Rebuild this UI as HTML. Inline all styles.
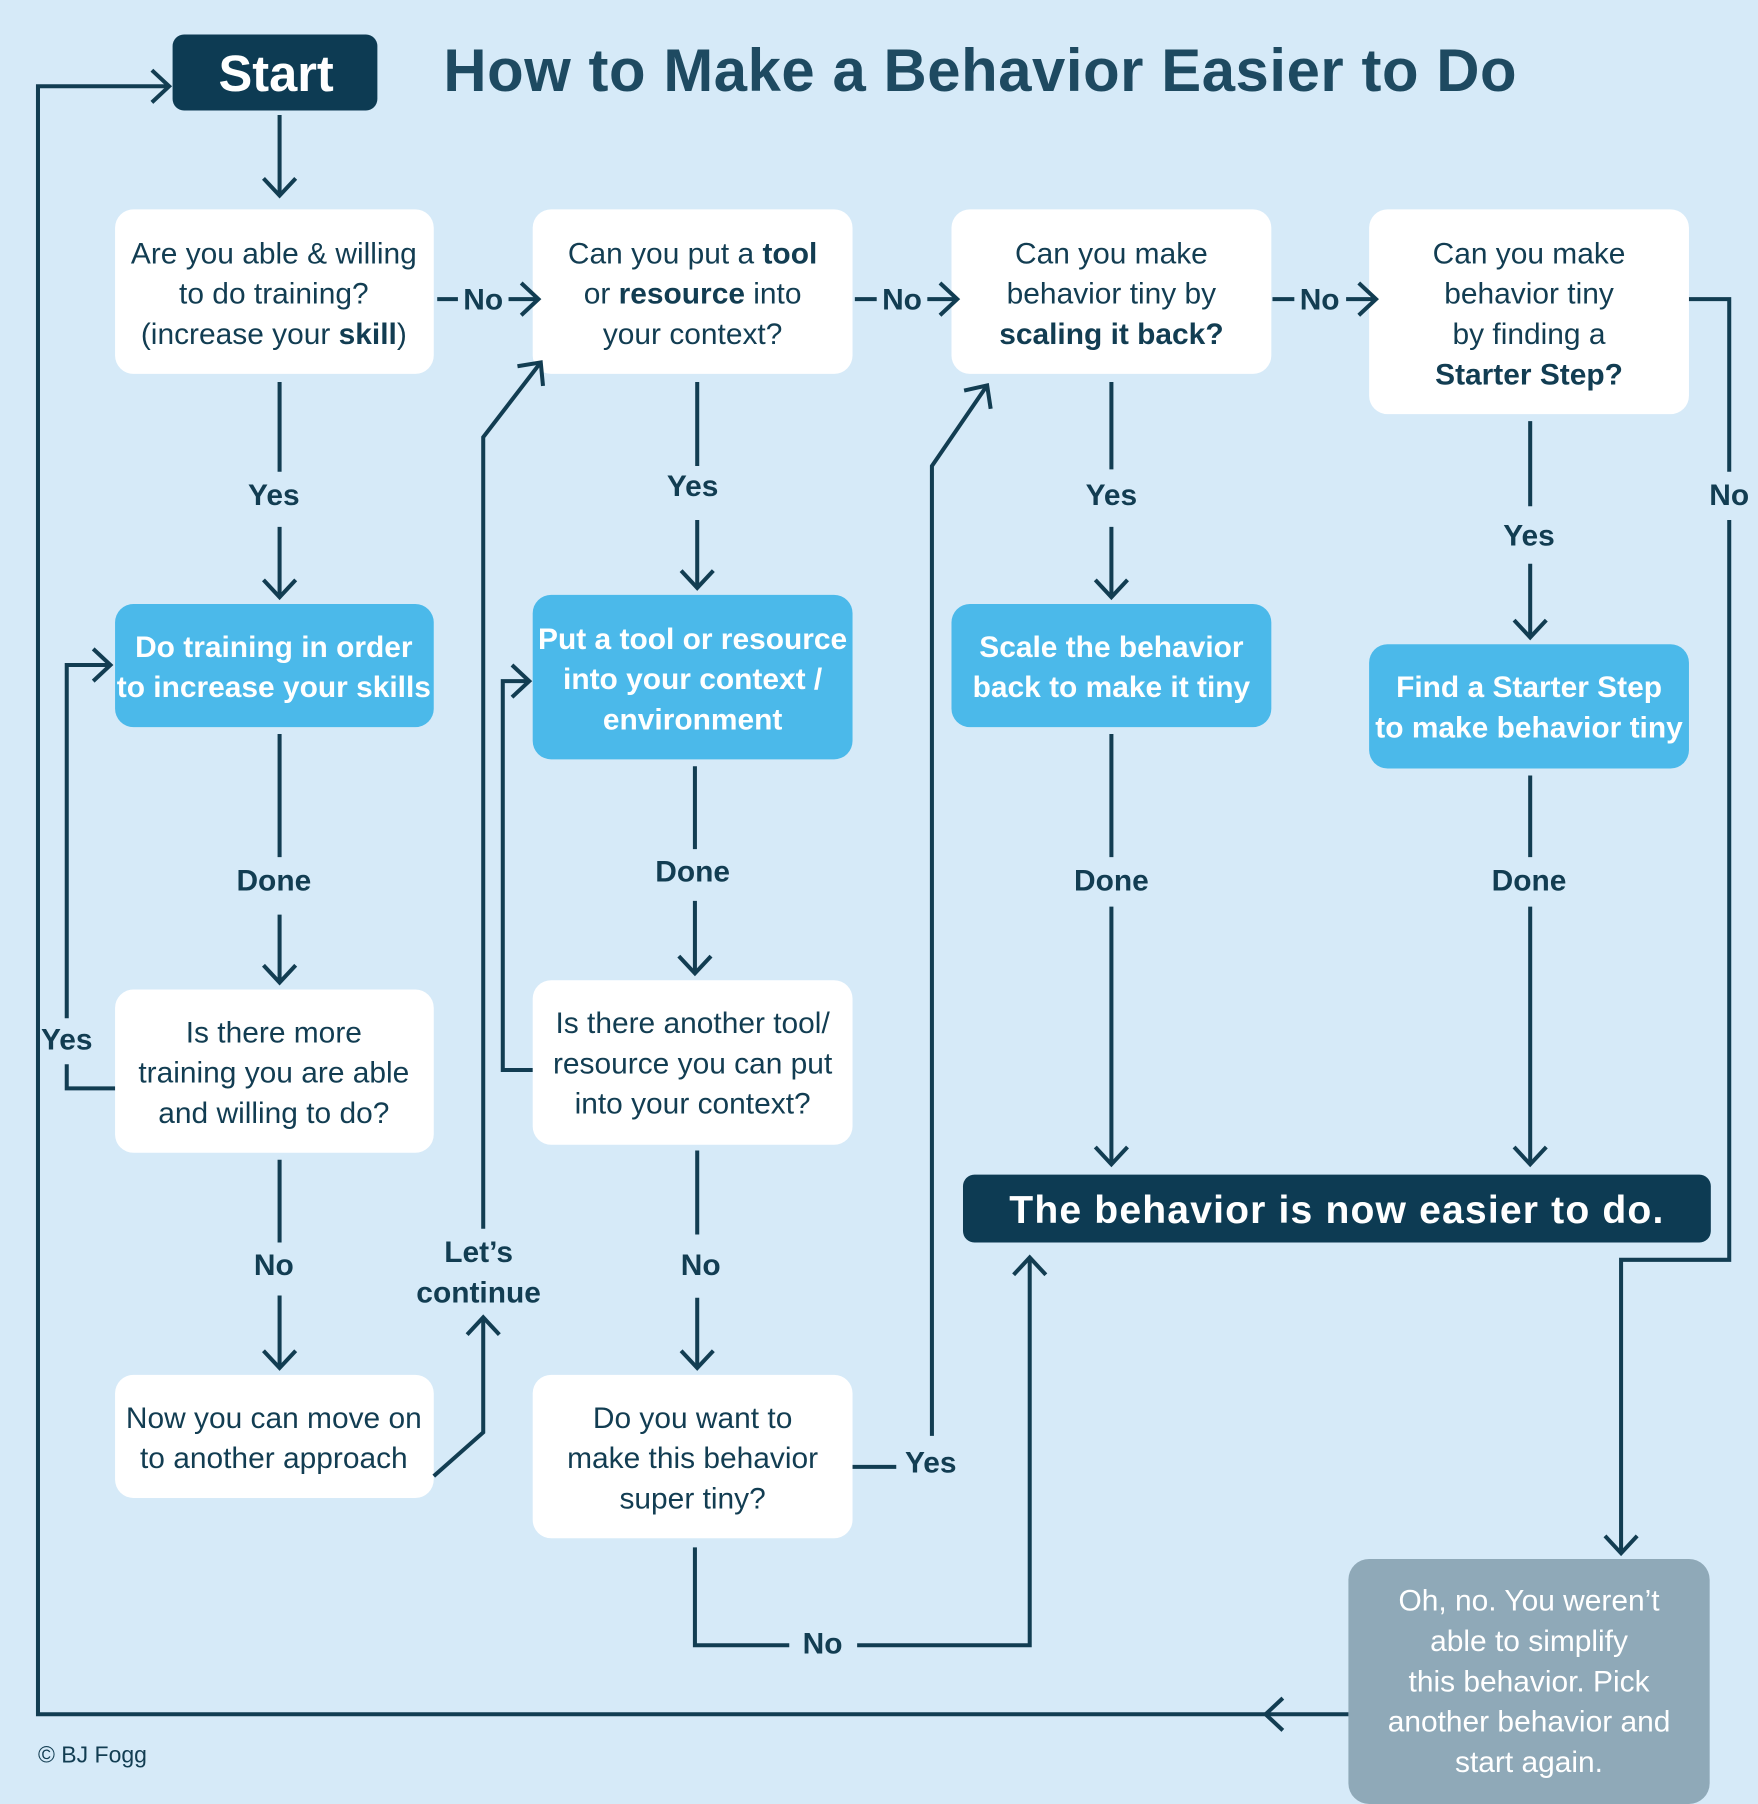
<!DOCTYPE html>
<html><head><meta charset="utf-8"><style>
html,body{margin:0;padding:0;background:#d6eaf8;}
svg{display:block}
text{font-family:"Liberation Sans",sans-serif;fill:#123d52;text-anchor:middle}
.b{font-weight:bold}
.t{font-size:26px}
.w{fill:#fff;font-weight:bold;font-size:26px}
.l{font-weight:bold;font-size:26px}
</style></head><body>
<svg width="1758" height="1804" viewBox="0 0 1528 1568" xmlns="http://www.w3.org/2000/svg">
<defs>
<marker id="a" viewBox="0 0 32 32" refX="29" refY="16" markerWidth="32" markerHeight="32" markerUnits="userSpaceOnUse" orient="auto">
<path d="M14 2 L29 16 L14 30" fill="none" stroke="#123d52" stroke-width="3.5"/>
</marker>
</defs>
<rect width="1528" height="1568" fill="#d6eaf8"/>
<rect x="150" y="30" width="178" height="66" rx="10" fill="#0d3b53"/>
<text x="240" y="79" class="b" style="font-size:44px;fill:#fff">Start</text>
<text x="852" y="79" class="b" style="font-size:52px;fill:#1e4a61;letter-spacing:0.5px">How to Make a Behavior Easier to Do</text>
<g fill="#fff">
<rect x="100" y="182" width="277" height="143" rx="16"/>
<rect x="463" y="182" width="278" height="143" rx="16"/>
<rect x="827" y="182" width="278" height="143" rx="16"/>
<rect x="1190" y="182" width="278" height="178" rx="16"/>
<rect x="100" y="860" width="277" height="142" rx="16"/>
<rect x="463" y="852" width="278" height="143" rx="16"/>
<rect x="100" y="1195" width="277" height="107" rx="16"/>
<rect x="463" y="1195" width="278" height="142" rx="16"/>
</g>
<g fill="#4bb9ea">
<rect x="100" y="525" width="277" height="107" rx="16"/>
<rect x="463" y="517" width="278" height="143" rx="16"/>
<rect x="827" y="525" width="278" height="107" rx="16"/>
<rect x="1190" y="560" width="278" height="108" rx="16"/>
</g>
<rect x="837" y="1021" width="650" height="59" rx="10" fill="#0d3b53"/>
<rect x="1172" y="1355" width="314" height="213" rx="18" fill="#8fa9b8"/>
<g fill="none" stroke="#123d52" stroke-width="3.5">
<path d="M243 100 V170" marker-end="url(#a)"/>
<path d="M243 332 V410"/><path d="M243 458 V519" marker-end="url(#a)"/>
<path d="M243 638 V745"/><path d="M243 795 V854" marker-end="url(#a)"/>
<path d="M243 1008 V1080"/><path d="M243 1126 V1189" marker-end="url(#a)"/>
<path d="M100 946 H58 V925"/><path d="M58 885 V578 H96" marker-end="url(#a)"/>
<path d="M377 1283 L420 1245 V1145" marker-end="url(#a)"/>
<path d="M420 1068 V380 L470 315" marker-end="url(#a)"/>
<path d="M606 332 V405"/><path d="M606 452 V511" marker-end="url(#a)"/>
<path d="M604 666 V738"/><path d="M604 783 V846" marker-end="url(#a)"/>
<path d="M606 1000 V1073"/><path d="M606 1128 V1189" marker-end="url(#a)"/>
<path d="M463 930 H437 V592 H460" marker-end="url(#a)"/>
<path d="M741 1275 H779"/>
<path d="M810 1248 V405 L858 335" marker-end="url(#a)"/>
<path d="M604 1345 V1430 H686"/><path d="M745 1430 H895 V1093" marker-end="url(#a)"/>
<path d="M966 332 V408"/><path d="M966 458 V519" marker-end="url(#a)"/>
<path d="M966 638 V745"/><path d="M966 788 V1012" marker-end="url(#a)"/>
<path d="M1330 366 V440"/><path d="M1330 490 V554" marker-end="url(#a)"/>
<path d="M1330 674 V745"/><path d="M1330 788 V1012" marker-end="url(#a)"/>
<path d="M1468 260 H1503 V410"/><path d="M1503 452 V1095 H1409 V1350" marker-end="url(#a)"/>
<path d="M1172 1490 H1100" marker-end="url(#a)"/>
<path d="M1102 1490 H33 V75 H147" marker-end="url(#a)"/>
<path d="M380 260 H398"/><path d="M442 260 H468" marker-end="url(#a)"/>
<path d="M743 260 H762"/><path d="M806 260 H832" marker-end="url(#a)"/>
<path d="M1106 260 H1125"/><path d="M1170 260 H1196" marker-end="url(#a)"/>
</g>
<g class="t">
<text x="238" y="229">Are you able &amp; willing</text>
<text x="238" y="264">to do training?</text>
<text x="238" y="299">(increase your <tspan class="b">skill</tspan>)</text>
<text x="602" y="229">Can you put a <tspan class="b">tool</tspan></text>
<text x="602" y="264">or <tspan class="b">resource</tspan> into</text>
<text x="602" y="299">your context?</text>
<text x="966" y="229">Can you make</text>
<text x="966" y="264">behavior tiny by</text>
<text x="966" y="299" class="b">scaling it back?</text>
<text x="1329" y="229">Can you make</text>
<text x="1329" y="264">behavior tiny</text>
<text x="1329" y="299">by finding a</text>
<text x="1329" y="334" class="b">Starter Step?</text>
<text x="238" y="906">Is there more</text>
<text x="238" y="941">training you are able</text>
<text x="238" y="976">and willing to do?</text>
<text x="602" y="898">Is there another tool/</text>
<text x="602" y="933">resource you can put</text>
<text x="602" y="968">into your context?</text>
<text x="238" y="1241">Now you can move on</text>
<text x="238" y="1276">to another approach</text>
<text x="602" y="1241">Do you want to</text>
<text x="602" y="1276">make this behavior</text>
<text x="602" y="1311">super tiny?</text>
</g>
<g class="w">
<text class="w" x="238" y="571">Do training in order</text>
<text class="w" x="238" y="606">to increase your skills</text>
<text class="w" x="602" y="564">Put a tool or resource</text>
<text class="w" x="602" y="599">into your context /</text>
<text class="w" x="602" y="634">environment</text>
<text class="w" x="966" y="571">Scale the behavior</text>
<text class="w" x="966" y="606">back to make it tiny</text>
<text class="w" x="1329" y="606">Find a Starter Step</text>
<text class="w" x="1329" y="641">to make behavior tiny</text>
</g>
<text x="1162" y="1063" class="b" style="font-size:34px;fill:#fff;letter-spacing:1px">The behavior is now easier to do.</text>
<g style="font-size:26px">
<text x="1329" y="1400" style="fill:#fff">Oh, no.  You weren’t</text>
<text x="1329" y="1435" style="fill:#fff">able to simplify</text>
<text x="1329" y="1470" style="fill:#fff">this behavior. Pick</text>
<text x="1329" y="1505" style="fill:#fff">another behavior and</text>
<text x="1329" y="1540" style="fill:#fff">start again.</text>
</g>
<g class="l">
<text class="l" x="420" y="269">No</text>
<text class="l" x="784" y="269">No</text>
<text class="l" x="1147" y="269">No</text>
<text class="l" x="238" y="439">Yes</text>
<text class="l" x="602" y="431">Yes</text>
<text class="l" x="966" y="439">Yes</text>
<text class="l" x="1329" y="474">Yes</text>
<text class="l" x="1503" y="439">No</text>
<text class="l" x="238" y="774">Done</text>
<text class="l" x="602" y="766">Done</text>
<text class="l" x="966" y="774">Done</text>
<text class="l" x="1329" y="774">Done</text>
<text class="l" x="58" y="912">Yes</text>
<text class="l" x="238" y="1108">No</text>
<text class="l" x="609" y="1108">No</text>
<text class="l" x="416" y="1097">Let’s</text>
<text class="l" x="416" y="1132">continue</text>
<text class="l" x="809" y="1280">Yes</text>
<text class="l" x="715" y="1437">No</text>
</g>
<text x="33" y="1532" style="font-size:20px;text-anchor:start">© BJ Fogg</text>
</svg>
</body></html>
